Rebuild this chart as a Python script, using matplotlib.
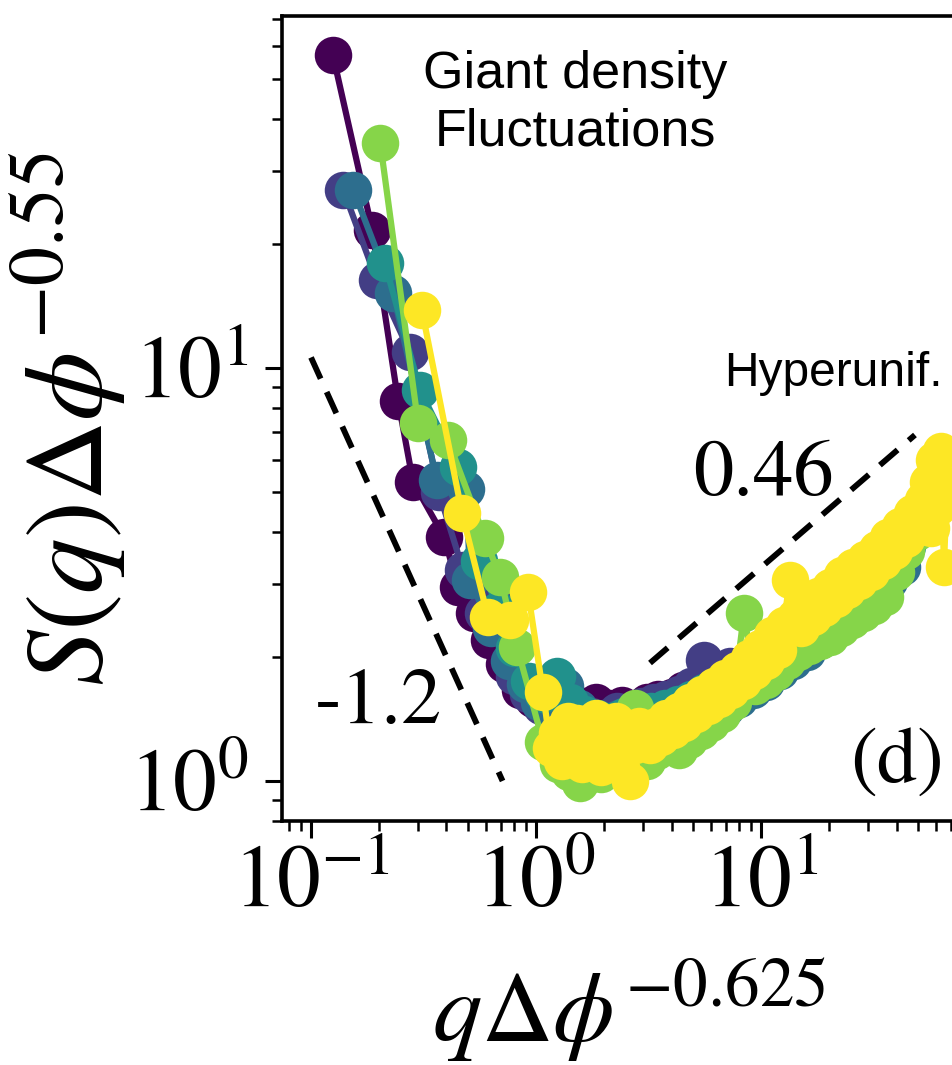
import matplotlib
matplotlib.use("Agg")
import matplotlib.pyplot as plt
from matplotlib.ticker import LogLocator, NullFormatter

plt.rcParams['font.family'] = ['STIXGeneral', 'DejaVu Serif']
plt.rcParams['mathtext.fontset'] = 'stix'

# ---------------- data ----------------
purple_x = [0.125, 0.187, 0.244, 0.284, 0.39, 0.45, 0.53, 0.62, 0.72, 0.85, 0.97, 1.1, 1.25,
            1.42, 1.62, 1.85, 2.1, 2.4, 2.75, 3.1, 3.5, 4.0, 4.5, 5.1, 5.8, 6.6, 7.5, 8.5,
            9.6, 10.9, 12.4, 14, 16, 18, 20.5, 23, 26, 30, 34]
purple_y = [57.3, 21.6, 8.3, 5.3, 3.9, 2.95, 2.55, 2.2, 1.92, 1.66, 1.58, 1.52, 1.5,
            1.48, 1.52, 1.55, 1.5, 1.53, 1.5, 1.55, 1.58, 1.6, 1.66, 1.7, 1.76, 1.82, 1.86, 1.8,
            1.9, 2.0, 2.1, 2.2, 2.35, 2.45, 2.6, 2.7, 2.85, 3.0, 3.25]

indigo_x = [0.139, 0.196, 0.275, 0.37, 0.474, 0.58, 0.70, 0.80, 0.92, 1.05, 1.2, 1.36, 1.55,
            1.76, 2.0, 2.28, 2.6, 2.95, 3.35, 3.8, 4.3, 4.9, 5.6, 6.4, 7.3, 8.3, 9.4, 10.7,
            12.2, 13.9, 15.8, 18, 20.5, 23.3, 26.5, 30.2, 34.4, 39]
indigo_y = [27.0, 16.3, 10.9, 5.0, 3.24, 2.55, 2.9, 1.8, 1.62, 1.52, 1.45, 1.42, 1.4,
            1.44, 1.42, 1.48, 1.45, 1.52, 1.55, 1.58, 1.62, 1.7, 1.96, 1.8, 1.9, 1.78, 1.85, 1.95,
            2.05, 2.15, 2.3, 2.42, 2.55, 2.7, 2.85, 3.0, 3.2, 3.5]

blue_x = [0.154, 0.231, 0.363, 0.49, 0.509, 0.63, 0.76, 0.89, 1.03, 1.18, 1.35, 1.55, 1.78,
          2.04, 2.34, 2.68, 3.07, 3.5, 4.0, 4.6, 5.3, 6.1, 7.0, 8.0, 9.2, 10.5, 12.1, 13.9,
          16, 18.4, 21.2, 24.4, 28, 32.2, 37, 42.5]
blue_y = [27.0, 15.2, 5.36, 5.1, 3.07, 2.35, 1.95, 1.72, 1.55, 1.45, 1.7, 1.5, 1.4,
          1.4, 1.42, 1.38, 1.45, 1.42, 1.46, 1.48, 1.5, 1.52, 1.5, 1.58, 1.66, 1.74, 1.85, 1.95,
          2.05, 2.2, 2.35, 2.5, 2.65, 2.85, 3.05, 3.3]

teal_x = [0.213, 0.305, 0.45, 0.56, 0.68, 0.80, 0.93, 1.07, 1.24, 1.42, 1.63, 1.87, 2.15,
          2.47, 2.83, 3.25, 3.73, 4.28, 4.9, 5.6, 6.5, 7.4, 8.5, 9.8, 11.2, 12.9, 14.8, 17,
          19.5, 22.4, 25.7, 29.5, 33.9, 38.9, 44.6]
teal_y = [17.9, 8.85, 5.76, 3.4, 2.6, 2.1, 1.75, 1.62, 1.8, 1.55, 1.45, 1.42, 1.4,
          1.44, 1.42, 1.48, 1.5, 1.54, 1.58, 1.64, 1.7, 1.74, 1.8, 1.9, 2.0, 2.12, 2.25, 2.38,
          2.5, 2.65, 2.8, 3.0, 3.2, 3.45, 3.7]

green_x = [0.203, 0.299, 0.406, 0.593, 0.692, 0.824, 1.074, 1.25, 1.4, 1.57, 1.75, 1.95, 2.2,
           2.45, 2.75, 3.1, 3.45, 3.85, 4.3, 4.8, 5.4, 6.0, 6.7, 7.5, 8.4, 9.4, 10.5, 11.7,
           13.1, 14.6, 16.3, 18.2, 20.3, 22.7, 25.4, 28.4, 31.7, 35.4, 39.6, 44.2, 49.4]
green_y = [35.1, 7.36, 6.69, 3.87, 3.12, 2.11, 1.24, 1.1, 1.05, 0.99, 1.1, 1.04, 1.12,
           1.08, 1.5, 1.12, 1.18, 1.22, 1.19, 1.26, 1.32, 1.38, 1.45, 1.55, 2.55, 1.7, 1.76, 1.84,
           1.95, 2.05, 2.12, 2.18, 2.23, 2.35, 2.45, 2.55, 2.65, 2.79, 3.2, 3.6, 4.0]

yellow_x = [0.311, 0.469, 0.612, 0.766, 0.921, 1.074, 1.16, 1.24, 1.3, 1.38, 1.45, 1.52,
            1.6, 1.68, 1.76, 1.85, 1.95, 2.05, 2.15, 2.26, 2.38, 2.5, 2.62, 2.75, 2.88,
            3.0, 3.2, 3.4, 3.6, 3.8, 4.05, 4.3, 4.55, 4.85, 5.15,
            5.45, 5.8, 6.15, 6.5, 6.9, 7.35, 7.8, 8.3, 8.8, 9.35, 9.9, 10.5, 11.2, 11.9, 12.6,
            13.4, 14.2, 15.1, 16.0, 17.0, 18.0, 19.1, 20.3, 21.5, 22.8, 24.2, 25.7, 27.3,
            29.0, 30.8, 32.7, 34.7, 36.8, 39.0, 41.4, 44.0, 46.7, 49.5, 52.5, 55, 57, 59,
            61, 63, 65, 67]
yellow_y = [13.8, 4.45, 2.49, 2.45, 2.87, 1.64, 1.2, 1.31, 1.12, 1.4, 1.2, 1.38,
            1.1, 1.35, 1.2, 1.42, 1.08, 1.32, 1.18, 1.4, 1.08, 1.3, 1.0, 1.22, 1.36,
            1.26, 1.22, 1.36, 1.28, 1.42, 1.33, 1.48, 1.38, 1.55, 1.45,
            1.62, 1.52, 1.7, 1.58, 1.78, 1.66, 1.86, 1.75, 1.98, 1.85, 2.1, 1.95, 2.25, 2.08, 2.38,
            3.07, 2.5, 2.35, 2.65, 2.5, 2.8, 2.62, 2.95, 2.75, 3.15, 2.9, 3.3, 3.05,
            3.45, 3.2, 3.65, 3.4, 3.9, 3.6, 4.15, 3.85, 4.45, 4.1, 4.8, 5.3, 4.1, 6.0,
            4.6, 6.3, 3.3, 5.2]

series = [
    (purple_x, purple_y, '#440154'),
    (indigo_x, indigo_y, '#433e85'),
    (blue_x, blue_y, '#2d6e8e'),
    (teal_x, teal_y, '#21918c'),
    (green_x, green_y, '#86d549'),
    (yellow_x, yellow_y, '#fde725'),
]

# guide lines (slopes -1.2 and 0.46)
guide1_x = [0.1, 0.71]
guide1_y = [10.6, 1.0]
guide2_x = [3.21, 48.3]
guide2_y = [1.93, 6.88]

xlim = (0.0743, 89.3)
ylim = (0.80, 71.1)

# ---------------- figure ----------------
W, H = 952, 1065
fig = plt.figure(figsize=(W / 100, H / 100), dpi=100)
ax_l, ax_r, ax_t, ax_b = 282, 975, 16, 821
ax = fig.add_axes([ax_l / W, 1 - ax_b / H, (ax_r - ax_l) / W, (ax_b - ax_t) / H])

for xs, ys, c in series:
    ax.plot(xs, ys, '-o', color=c, lw=4.5, ms=27, mec=c, mew=0)

dash = (4, 2.5)
ax.plot(guide1_x, guide1_y, color='black', lw=4.2, dashes=dash)
ax.plot(guide2_x, guide2_y, color='black', lw=4.2, dashes=dash)

ax.set_xscale('log')
ax.set_yscale('log')
ax.set_xlim(*xlim)
ax.set_ylim(*ylim)

for axis in (ax.xaxis, ax.yaxis):
    axis.set_major_locator(LogLocator(base=10, numticks=10))
    axis.set_minor_locator(LogLocator(base=10, subs=range(2, 10), numticks=20))
    axis.set_minor_formatter(NullFormatter())

ax.tick_params(which='major', direction='out', length=12, width=2.2, labelsize=63)
ax.tick_params(which='minor', direction='out', length=7, width=1.8)
ax.tick_params(axis='x', which='major', pad=6)
ax.tick_params(axis='y', which='major', pad=12)
for s in ax.spines.values():
    s.set_linewidth(2.6)

ax.set_xlabel(r'$q\Delta\phi^{-0.625}$', fontsize=71, labelpad=22)
ax.set_ylabel(r'$S(q)\Delta\phi^{-0.55}$', fontsize=80, labelpad=0)

def fx(px):
    return (px - ax_l) / (ax_r - ax_l)

def fy(py):
    return (ax_b - py) / (ax_b - ax_t)

sans = ['Liberation Sans', 'DejaVu Sans']
ax.text(fx(575), fy(88), 'Giant density', transform=ax.transAxes, ha='center',
        va='baseline', fontsize=37.5, family=sans)
ax.text(fx(575), fy(146), 'Fluctuations', transform=ax.transAxes, ha='center',
        va='baseline', fontsize=37.5, family=sans)
ax.text(fx(724), fy(386), 'Hyperunif.', transform=ax.transAxes, ha='left',
        va='baseline', fontsize=34.5, family=sans)

ax.text(fx(315), fy(723), '-1.2', transform=ax.transAxes, ha='left', va='baseline', fontsize=58)
ax.text(fx(693), fy(495), '0.46', transform=ax.transAxes, ha='left', va='baseline', fontsize=58)
ax.text(fx(850), fy(782), '(d)', transform=ax.transAxes, ha='left', va='baseline', fontsize=58)

fig.savefig('out.png', dpi=100)
